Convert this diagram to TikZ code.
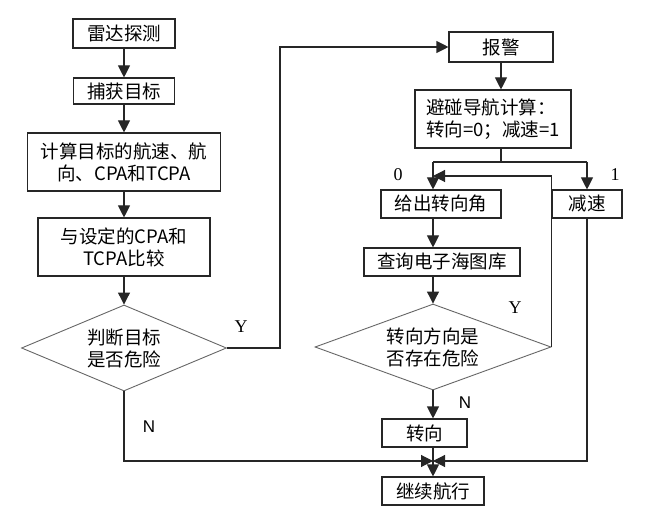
\documentclass[tikz,border=0pt]{standalone}
\usepackage{fontspec}
\setmainfont{Liberation Serif}
\newfontfamily\cjk{Noto Sans CJK SC}
\newfontfamily\labsans{Liberation Sans}
\usetikzlibrary{arrows.meta,shapes.geometric}
\begin{document}
\begin{tikzpicture}[x=1pt,y=-1pt,
  box/.style={draw=black!85,line width=1.1pt,inner sep=0pt,font=\cjk\fontsize{18.5}{22}\selectfont,align=center},
  dia/.style={draw=black!60,line width=0.9pt,shape=diamond,inner sep=0pt,font=\cjk\fontsize{18.5}{22}\selectfont,align=center},
  conn/.style={line width=1.1pt,draw=black!85},
  arr/.style={conn,-{Triangle[length=12pt,width=12pt]}},
  lab/.style={font=\fontsize{18}{18}\selectfont},
  labn/.style={font=\labsans\fontsize{17}{17}\selectfont}]
\useasboundingbox (0,0) rectangle (649,516);

% left column
\node[box,minimum width=102pt,minimum height=29pt] (radar) at (124,33.5) {雷达探测};
\node[box,minimum width=101pt,minimum height=26pt] (capture) at (124,91) {捕获目标};
\node[box,minimum width=193pt,minimum height=58pt] (calc) at (124,162) {计算目标的航速、航\\向、CPA和TCPA};
\node[box,minimum width=172pt,minimum height=58pt] (compare) at (124,247) {与设定的CPA和\\TCPA比较};
\node[dia,aspect=2.4,minimum width=205pt,minimum height=86pt] (d1) at (124,348) {判断目标\\是否危险};

% right column
\node[box,minimum width=104pt,minimum height=30pt] (alarm) at (501,47) {报警};
\node[box,minimum width=156pt,minimum height=58pt,align=left] (avoid) at (493,119) {避碰导航计算：\\转向=0；减速=1};
\node[box,minimum width=120pt,minimum height=28pt] (turnangle) at (441,204) {给出转向角};
\node[box,minimum width=70pt,minimum height=28pt] (decel) at (587,204) {减速};
\node[box,minimum width=156pt,minimum height=28pt] (query) at (442,262) {查询电子海图库};
\node[dia,aspect=2.8,minimum width=236pt,minimum height=86pt] (d2) at (433,347) {转向方向是\\否存在危险};
\node[box,minimum width=85pt,minimum height=28pt] (turn) at (424.5,433) {转向};
\node[box,minimum width=102pt,minimum height=28pt] (cont) at (433,491) {继续航行};

% helper coordinates
\coordinate (yturn) at (280,0);
\coordinate (xa) at (501,0);
\coordinate (split) at (501,162);
\coordinate (sl) at (433,162);
\coordinate (sr) at (587,162);
\coordinate (loop) at (0,176);
\coordinate (merge) at (433,461);

% connectors, left column
\draw[arr] (radar.south) -- (radar.south |- capture.north);
\draw[arr] (capture.south) -- (capture.south |- calc.north);
\draw[arr] (calc.south) -- (calc.south |- compare.north);
\draw[arr] (compare.south) -- (compare.south |- d1.north);
\draw[arr] (d1.east) -- (d1.east -| yturn) |- (alarm.west);

% connectors, right column
\draw[arr] (alarm.south -| xa) -- (avoid.north -| xa);
\draw[conn] (avoid.south -| xa) -- (split);
\draw[conn] (sl) -- (sr);
\draw[arr] (sl) -- (sl |- turnangle.north);
\draw[arr] (sr) -- (sr |- decel.north);
\draw[arr] (sl |- turnangle.south) -- (sl |- query.north);
\draw[arr] (sl |- query.south) -- (d2.north);
\draw[arr] (d2.east) -- (d2.east |- loop) -- (sl |- loop);
\draw[arr] (d2.south) -- (d2.south |- turn.north);
\draw[arr] (d2.south |- turn.south) -- (cont.north);
\draw[arr] (d1.south) -- (d1.south |- merge) -- (merge);
\draw[arr] (decel.south) -- (decel.south |- merge) -- (merge);

% labels
\node[lab] (ly1) at (241,327) {Y};
\node[labn] (ln1) at (149,427) {N};
\node[lab] (l0) at (398,175) {0};
\node[lab] (l1) at (615,175) {1};
\node[lab] (ly2) at (515,308) {Y};
\node[labn] (ln2) at (465,403) {N};
\end{tikzpicture}
\end{document}
